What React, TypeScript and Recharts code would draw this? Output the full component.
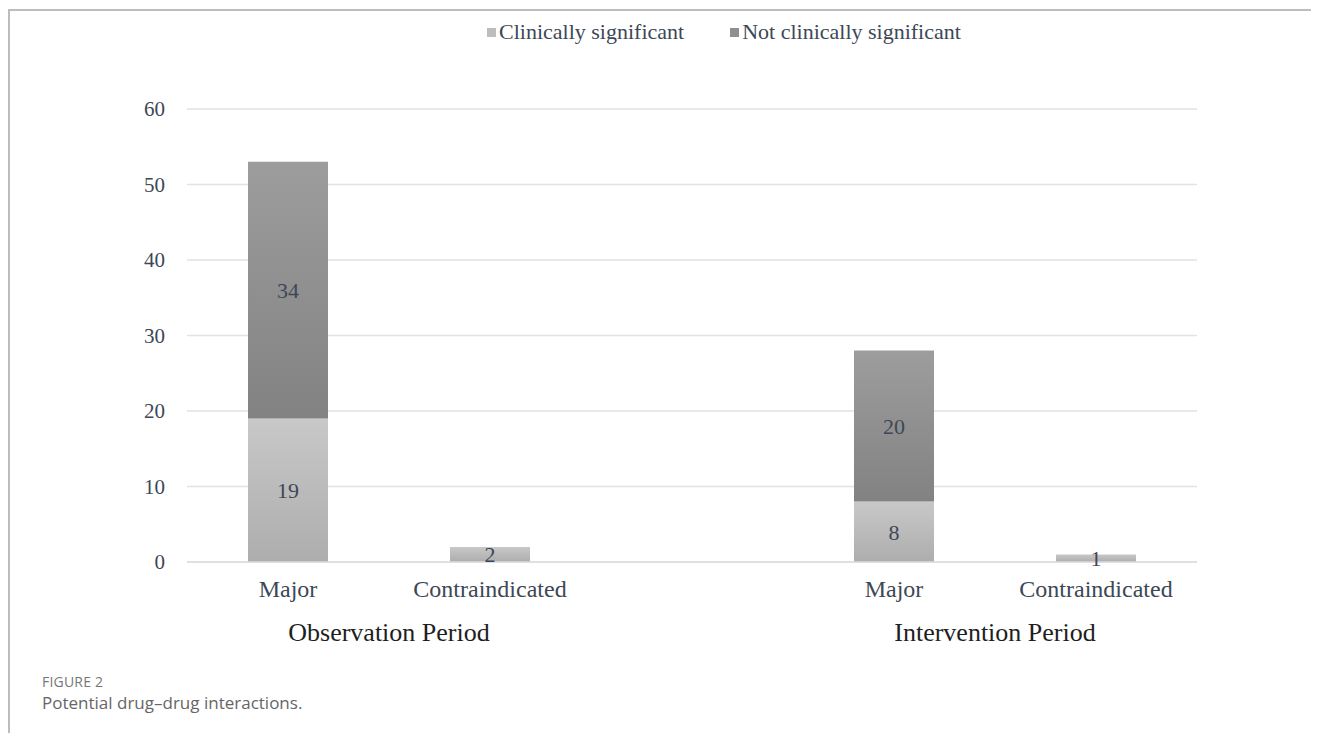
import React from "react";
import {
  BarChart,
  Bar,
  XAxis,
  YAxis,
  CartesianGrid,
  LabelList,
  Legend,
} from "recharts";

const categories = ["Major", "Contraindicated", "", "Major", "Contraindicated"];
const categoryPositions = [0.5, 1.5, 2.5, 3.5, 4.5];
const clinicallySignificant: (number | null)[] = [19, 2, null, 8, 1];
const notClinicallySignificant: (number | null)[] = [34, 0, null, 20, 0];
const periodNames = ["Observation Period", "Intervention Period"];
const periodPositions = [1, 4];
const yTicks = [0, 10, 20, 30, 40, 50, 60];

const data = categories.map((c, i) => ({
  key: `cat${i}`,
  label: c,
  pos: categoryPositions[i],
  clin: clinicallySignificant[i],
  notClin: notClinicallySignificant[i],
}));

const SERIF = "'Liberation Serif', 'Times New Roman', serif";
const LABEL_COLOR = "#3d4756";

const legendItems = [
  { key: "clin", name: "Clinically significant", color: "#bdbdbd" },
  { key: "notClin", name: "Not clinically significant", color: "#8f8f8f" },
];

const renderLegend = () => (
  <div
    style={{
      display: "flex",
      alignItems: "center",
      fontFamily: SERIF,
      fontSize: 22,
      color: LABEL_COLOR,
      whiteSpace: "nowrap",
    }}
  >
    {legendItems.map((it, i) => (
      <span
        key={it.key}
        style={{
          display: "inline-flex",
          alignItems: "center",
          marginRight: i === 0 ? 46 : 0,
        }}
      >
        <span
          style={{
            display: "inline-block",
            width: 9,
            height: 9,
            background: it.color,
            marginRight: 3,
          }}
        />
        {it.name}
      </span>
    ))}
  </div>
);

const zeroHidden = (v: any) => (v === 0 || v == null ? "" : v);

export default function App() {
  return (
    <div style={{ position: "relative", width: 1303, height: 725, background: "#fff" }}>
      <div style={{ position: "absolute", left: 0, top: 1, width: 1303, height: 2, background: "#bdbdbd" }} />
      <div style={{ position: "absolute", left: 0, top: 1, width: 2, height: 724, background: "#bdbdbd" }} />
      <div style={{ position: "absolute", left: 0, top: 0 }}>
        <BarChart
          width={1303}
          height={654}
          data={data}
          margin={{ top: 101, right: 114, left: 0, bottom: 10 }}
          barSize={80}
        >
          <defs>
            <linearGradient id="gLight" x1="0" y1="0" x2="0" y2="1">
              <stop offset="0%" stopColor="#c8c8c8" />
              <stop offset="100%" stopColor="#adadad" />
            </linearGradient>
            <linearGradient id="gDark" x1="0" y1="0" x2="0" y2="1">
              <stop offset="0%" stopColor="#9d9d9d" />
              <stop offset="100%" stopColor="#828282" />
            </linearGradient>
          </defs>
          <CartesianGrid vertical={false} stroke="#e2e2e2" strokeWidth={1.5} />
          <XAxis
            dataKey="key"
            tickFormatter={(_v: any, i: number) => categories[i]}
            axisLine={{ stroke: "#dcdcdc", strokeWidth: 1.5 }}
            tickLine={false}
            interval={0}
            height={40}
            tickMargin={12}
            tick={{ fill: LABEL_COLOR, fontSize: 24, fontFamily: SERIF }}
          />
          <XAxis
            xAxisId="period"
            dataKey="pos"
            type="number"
            domain={[0, 5]}
            ticks={periodPositions}
            tickFormatter={(v: number) => periodNames[periodPositions.indexOf(v)]}
            axisLine={false}
            tickLine={false}
            interval={0}
            height={50}
            tickMargin={15}
            allowDataOverflow
            tick={{ fill: "#1e1e1e", fontSize: 26, fontFamily: SERIF }}
          />
          <YAxis
            domain={[0, 60]}
            ticks={yTicks}
            width={179}
            axisLine={false}
            tickLine={false}
            tickMargin={16}
            tick={{ fill: LABEL_COLOR, fontSize: 21, fontFamily: SERIF }}
          />
          <Legend
            verticalAlign="middle"
            content={renderLegend}
            wrapperStyle={{ position: "absolute", top: 11, left: 479, width: "auto" }}
          />
          <Bar dataKey="clin" stackId="a" fill="url(#gLight)" name="Clinically significant" isAnimationActive={false}>
            <LabelList
              dataKey="clin"
              position="center"
              formatter={zeroHidden}
              style={{ fill: LABEL_COLOR, fontSize: 22, fontFamily: SERIF }}
            />
          </Bar>
          <Bar dataKey="notClin" stackId="a" fill="url(#gDark)" name="Not clinically significant" isAnimationActive={false}>
            <LabelList
              dataKey="notClin"
              position="center"
              formatter={zeroHidden}
              style={{ fill: LABEL_COLOR, fontSize: 22, fontFamily: SERIF }}
            />
          </Bar>
        </BarChart>
      </div>
      <div
        style={{
          position: "absolute",
          left: 34,
          top: 664,
          fontFamily: "'Open Sans', 'Noto Sans', sans-serif",
          color: "#777",
        }}
      >
        <div style={{ fontSize: 14, lineHeight: "20px", letterSpacing: 0.2 }}>FIGURE 2</div>
        <div style={{ fontSize: 17, lineHeight: "22px", color: "#666" }}>Potential drug–drug interactions.</div>
      </div>
    </div>
  );
}
